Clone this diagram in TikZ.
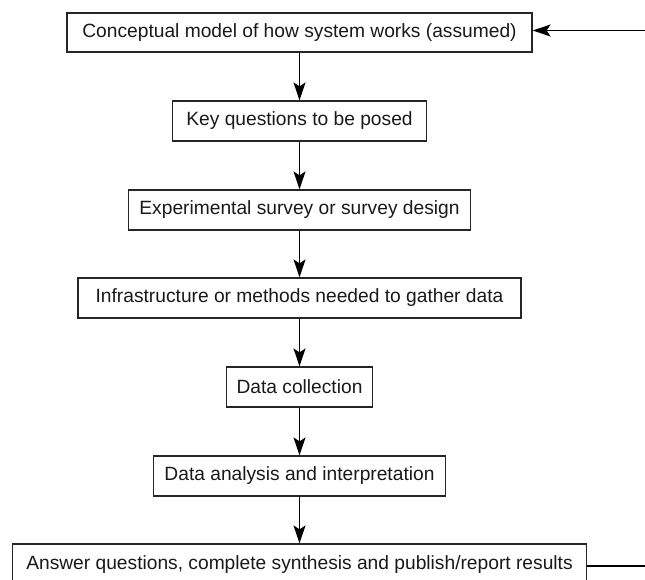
\documentclass[tikz,border=0pt]{standalone}
\usepackage{fontspec}
\setmainfont{Liberation Sans}
\usetikzlibrary{arrows.meta}
\begin{document}
\begin{tikzpicture}[x=1pt,y=-1pt,
  box/.style={draw=black!85, line width=1.2pt, minimum height=40pt, inner sep=0pt,
    font=\fontsize{19.2}{22}\selectfont, text=black!90},
  flow/.style={line width=1.5pt, -{Stealth[length=18pt,width=12pt,inset=4pt]}}]
\useasboundingbox (0,0) rectangle (645,579);
\node[box, minimum width=465pt, minimum height=39pt] (b1) at (299.5,32.5) {Conceptual model of how system works (assumed)};
\node[box, minimum width=254pt] (b2) at (299.5,121) {Key questions to be posed};
\node[box, minimum width=342pt] (b3) at (299.5,210) {Experimental survey or survey design};
\node[box, minimum width=443pt] (b4) at (299.5,298) {Infrastructure or methods needed to gather data};
\node[box, minimum width=146pt] (b5) at (299.5,387) {Data collection};
\node[box, minimum width=292pt] (b6) at (299.5,476) {Data analysis and interpretation};
\node[box, minimum width=574pt, minimum height=42pt] (b7) at (299.5,565) {Answer questions, complete synthesis and publish/report results};
\coordinate (rtop) at (645,30.5);
\coordinate (rbot) at (645,566);
\draw[flow] (b1) -- (b2);
\draw[flow] (b2) -- (b3);
\draw[flow] (b3) -- (b4);
\draw[flow] (b4) -- (b5);
\draw[flow] (b5) -- (b6);
\draw[flow] (b6) -- (b7);
\draw[line width=1.5pt] (b7.east |- rbot) -- (rbot);
\draw[flow] (rtop) -- (b1.east |- rtop);
\end{tikzpicture}
\end{document}
